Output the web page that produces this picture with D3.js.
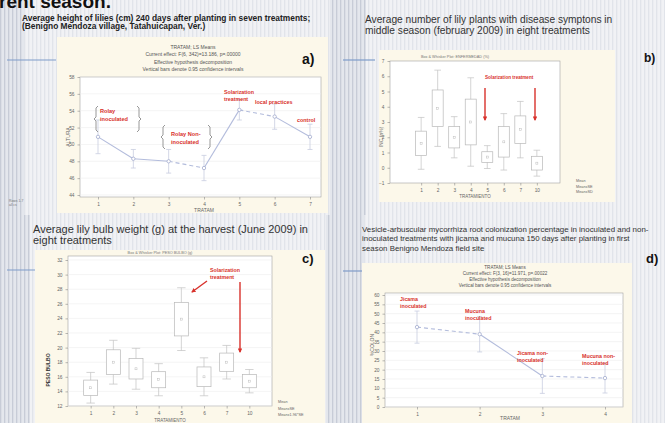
<!DOCTYPE html>
<html>
<head>
<meta charset="utf-8">
<script src="https://cdn.jsdelivr.net/npm/d3@7"></script>
<style>
body { margin: 0; background: #fff; }
svg { display: block; font-family: "Liberation Sans", Arial, sans-serif; }
</style>
</head>
<body>
<script>
// a) lily height, LS means with 95% CI
var heightTreat = ["1", "2", "3", "4", "5", "6", "7"];
var heightMean = [50.9, 48.3, 48.0, 47.2, 54.1, 53.3, 50.9];
var heightCI = [2.0, 1.1, 1.4, 1.5, 1.2, 1.5, 1.5];
var heightTicks = [44, 46, 48, 50, 52, 54, 56, 58];
var heightDashed = [false, false, true, false, true, false];

// b) plants with disease symptoms, box & whisker
var diseaseTreat = ["1", "2", "3", "4", "5", "6", "7", "10"];
var diseaseMean = [1.6, 3.9, 2.0, 3.0, 0.7, 1.7, 2.5, 0.3];
var diseaseSE = [0.8, 1.2, 0.7, 1.5, 0.35, 1.0, 0.9, 0.45];
var diseaseSD = [1.7, 2.5, 1.35, 2.9, 0.75, 1.85, 1.85, 0.85];
var diseaseTicks = [-1, 0, 1, 2, 3, 4, 5, 6, 7];

// c) bulb weight, box & whisker
var bulbTreat = ["1", "2", "3", "4", "5", "6", "7", "10"];
var bulbMean = [14.5, 18.0, 17.1, 15.6, 23.9, 16.0, 18.0, 15.4];
var bulbSE = [1.05, 1.7, 1.4, 1.1, 2.3, 1.35, 1.25, 0.9];
var bulbSD = [2.1, 3.0, 2.8, 2.2, 4.3, 2.6, 2.3, 1.6];
var bulbTicks = [12, 14, 16, 18, 20, 22, 24, 26, 28, 30, 32];

// d) mycorrhiza colonization, LS means with 95% CI
var colonTreat = ["1", "2", "3", "4"];
var colonMean = [42.8, 39.0, 16.6, 15.5];
var colonCI = [8.6, 9.5, 9.3, 8.0];
var colonTicks = [0, 5, 10, 15, 20, 25, 30, 35, 40, 45, 50, 55, 60];
var colonDashed = [true, false, true];

var W = 665, H = 423;
var RED = "#d8312b";
var LINE = "#b3bcdc";

var svg = d3.select("body").append("svg")
  .attr("width", W)
  .attr("height", H);

var defs = svg.append("defs");

function stripePattern(id, base, line) {
  var p = defs.append("pattern")
    .attr("id", id)
    .attr("patternUnits", "userSpaceOnUse")
    .attr("width", 4)
    .attr("height", 4);
  p.append("rect").attr("width", 4).attr("height", 4).attr("fill", base);
  p.append("rect").attr("width", 1.3).attr("height", 4).attr("fill", line);
}
stripePattern("stLight", "#f1f2f5", "#e1e4ea");
stripePattern("stDark", "#e4e7ed", "#c7ccd7");

defs.append("marker")
  .attr("id", "arrow")
  .attr("viewBox", "0 0 10 10")
  .attr("refX", 8)
  .attr("refY", 5)
  .attr("markerWidth", 3.2)
  .attr("markerHeight", 3.2)
  .attr("orient", "auto")
  .append("path")
  .attr("d", "M0,0 L10,5 L0,10 z")
  .attr("fill", RED);

// slide backgrounds
svg.append("rect").attr("x", 0).attr("y", 0).attr("width", W).attr("height", H).attr("fill", "url(#stLight)");
[[0, 0, 24, 215], [330, 0, 36, 215], [0, 215, 30, 208], [330, 215, 34, 208], [326, 215, 6, 208]].forEach(function(b) {
  svg.append("rect").attr("x", b[0]).attr("y", b[1]).attr("width", b[2]).attr("height", b[3]).attr("fill", "url(#stDark)");
});

// blue rule lines on the slides
[[7, 56, 60], [343, 375, 60], [7, 44, 270], [343, 364, 271]].forEach(function(l) {
  svg.append("line").attr("x1", l[0]).attr("x2", l[1]).attr("y1", l[2]).attr("y2", l[2])
    .attr("stroke", "#7f9cc9").attr("stroke-width", 1.2);
});

// cut-off slide heading
svg.append("text")
  .attr("x", -1).attr("y", 8)
  .attr("font-size", 19).attr("font-weight", "bold").attr("fill", "#111")
  .text("rent season.");

function cream(x, y, w, h) {
  svg.append("rect").attr("x", x).attr("y", y).attr("width", w).attr("height", h)
    .attr("fill", "#fcf8ea");
}

function lines(x, y0, dy, arr, size, weight, color, anchor) {
  arr.forEach(function(t, i) {
    svg.append("text")
      .attr("x", x).attr("y", y0 + i * dy)
      .attr("font-size", size)
      .attr("font-weight", weight || "normal")
      .attr("fill", color || "#333")
      .attr("text-anchor", anchor || "start")
      .text(t);
  });
}

function plotFrame(x0, x1, y0, y1, yScale, ticks, xScale) {
  var g = svg.append("g");
  g.append("rect").attr("x", x0).attr("y", y0).attr("width", x1 - x0).attr("height", y1 - y0)
    .attr("fill", "#fff").attr("stroke", "#a0a0a0").attr("stroke-width", 0.6);
  g.selectAll(".grid").data(ticks).enter().append("line")
    .attr("class", "grid")
    .attr("x1", x0).attr("x2", x1)
    .attr("y1", function(d) { return yScale(d); })
    .attr("y2", function(d) { return yScale(d); })
    .attr("stroke", "#ededed").attr("stroke-width", 0.6);

  var ya = g.append("g").attr("transform", "translate(" + x0 + ",0)")
    .call(d3.axisLeft(yScale).tickValues(ticks).tickSize(2.5).tickPadding(3));
  var xa = g.append("g").attr("transform", "translate(0," + y1 + ")")
    .call(d3.axisBottom(xScale).tickSize(2.5).tickPadding(3));
  [ya, xa].forEach(function(a) {
    a.select(".domain").remove();
    a.selectAll("line").attr("stroke", "#8a8a8a").attr("stroke-width", 0.6);
    a.selectAll("text").attr("font-size", 4.8).attr("fill", "#666").attr("font-family", "Liberation Sans, Arial");
  });
  return g;
}

function meansChart(g, x, y, cats, mean, ci, dashed) {
  for (var i = 0; i < cats.length - 1; i++) {
    g.append("line")
      .attr("x1", x(cats[i])).attr("y1", y(mean[i]))
      .attr("x2", x(cats[i + 1])).attr("y2", y(mean[i + 1]))
      .attr("stroke", LINE).attr("stroke-width", 1.1)
      .attr("stroke-dasharray", dashed[i] ? "4,3" : null);
  }
  var e = g.selectAll(".err").data(cats).enter().append("g");
  e.append("line")
    .attr("x1", function(d) { return x(d); }).attr("x2", function(d) { return x(d); })
    .attr("y1", function(d, i) { return y(mean[i] + ci[i]); })
    .attr("y2", function(d, i) { return y(mean[i] - ci[i]); })
    .attr("stroke", "#c8cde0").attr("stroke-width", 0.8);
  [1, -1].forEach(function(s) {
    e.append("line")
      .attr("x1", function(d) { return x(d) - 2.5; }).attr("x2", function(d) { return x(d) + 2.5; })
      .attr("y1", function(d, i) { return y(mean[i] + s * ci[i]); })
      .attr("y2", function(d, i) { return y(mean[i] + s * ci[i]); })
      .attr("stroke", "#c8cde0").attr("stroke-width", 0.8);
  });
  e.append("circle")
    .attr("cx", function(d) { return x(d); })
    .attr("cy", function(d, i) { return y(mean[i]); })
    .attr("r", 1.7)
    .attr("fill", "#fff").attr("stroke", "#a3acce").attr("stroke-width", 0.8);
}

function boxChart(g, x, y, cats, mean, se, sd, bw) {
  var b = g.selectAll(".bx").data(cats).enter().append("g");
  b.append("line")
    .attr("x1", function(d) { return x(d); }).attr("x2", function(d) { return x(d); })
    .attr("y1", function(d, i) { return y(mean[i] + sd[i]); })
    .attr("y2", function(d, i) { return y(mean[i] - sd[i]); })
    .attr("stroke", "#c2c2c2").attr("stroke-width", 0.7);
  [1, -1].forEach(function(s) {
    b.append("line")
      .attr("x1", function(d) { return x(d) - bw * 0.3; }).attr("x2", function(d) { return x(d) + bw * 0.3; })
      .attr("y1", function(d, i) { return y(mean[i] + s * sd[i]); })
      .attr("y2", function(d, i) { return y(mean[i] + s * sd[i]); })
      .attr("stroke", "#c2c2c2").attr("stroke-width", 0.7);
  });
  b.append("rect")
    .attr("x", function(d) { return x(d) - bw / 2; })
    .attr("width", bw)
    .attr("y", function(d, i) { return y(mean[i] + se[i]); })
    .attr("height", function(d, i) { return y(mean[i] - se[i]) - y(mean[i] + se[i]); })
    .attr("fill", "#fff").attr("stroke", "#b8b8b8").attr("stroke-width", 0.7);
  b.append("rect")
    .attr("x", function(d) { return x(d) - 1; })
    .attr("y", function(d, i) { return y(mean[i]) - 1; })
    .attr("width", 2).attr("height", 2)
    .attr("fill", "none").attr("stroke", "#bdbdbd").attr("stroke-width", 0.5);
}

function redText(x, y0, arr, size) {
  lines(x, y0, size * 1.35, arr, size, "bold", RED);
}

function brace(x, yTop, yBot, dir) {
  var m = (yTop + yBot) / 2;
  var d = "M" + (x + 2 * dir) + "," + yTop + " L" + x + "," + (yTop + 2) +
    " L" + x + "," + (m - 2) + " L" + (x - 2 * dir) + "," + m +
    " L" + x + "," + (m + 2) + " L" + x + "," + (yBot - 2) + " L" + (x + 2 * dir) + "," + yBot;
  svg.append("path").attr("d", d).attr("fill", "none").attr("stroke", "#8c8c8c").attr("stroke-width", 0.9);
}

function redArrow(x1, y1, x2, y2) {
  svg.append("line").attr("x1", x1).attr("y1", y1).attr("x2", x2).attr("y2", y2)
    .attr("stroke", RED).attr("stroke-width", 1.4).attr("marker-end", "url(#arrow)");
}

function yTitle(x, y, t, color, weight) {
  svg.append("text")
    .attr("transform", "translate(" + x + "," + y + ") rotate(-90)")
    .attr("text-anchor", "middle")
    .attr("font-size", 5).attr("fill", color || "#666").attr("font-weight", weight || "normal")
    .text(t);
}

// ---------- panel a ----------
lines(22, 20.5, 8.6, ["Average height of lilies (cm)  240 days after planting in seven treatments;",
  "(Benigno Mendoza village, Tatahuicapan, Ver.)"], 8.4, "bold", "#222");
cream(57, 37, 271, 176);
lines(193, 49, 7.3, ["TRATAM; LS Means",
  "Current effect: F(6, 342)=13.186, p=.00000",
  "Effective hypothesis decomposition",
  "Vertical bars denote 0.95 confidence intervals"], 5, "normal", "#555", "middle");
lines(302, 64, 0, ["a)"], 14, "bold", "#111");

var ax = d3.scalePoint().domain(heightTreat).range([98, 310]);
var ay = d3.scaleLinear().domain([44, 58]).range([195, 77]);
var ga = plotFrame(80, 321, 77, 197, ay, heightTicks, ax);
meansChart(ga, ax, ay, heightTreat, heightMean, heightCI, heightDashed);
yTitle(70, 137, "ALTURA");
lines(204, 211.5, 0, ["TRATAM"], 5, "normal", "#666", "middle");
lines(9, 202, 4, ["Rows 1-7", "all cs"], 3.4, "normal", "#777");

brace(96, 106, 132, 1);
brace(139, 106, 132, -1);
redText(100, 113, ["Rolay", "inoculated"], 5.6);
brace(163, 125, 149, 1);
brace(210, 125, 149, -1);
redText(171, 136, ["Rolay Non-", "inoculated"], 5.6);
redText(224, 94, ["Solarization", "treatment"], 5.3);
redText(255, 104, ["local practices"], 5.4);
redText(297, 122, ["control"], 5.4);

// ---------- panel b ----------
lines(365, 23, 11, ["Average number of lily plants with disease symptons in",
  "middle season (february 2009) in eight treatments"], 10.2, "normal", "#333");
cream(379, 50, 236, 152);
lines(644, 62, 0, ["b)"], 12, "bold", "#111");
lines(455, 58, 0, ["Box & Whisker Plot: ENFERMEDAD (%)"], 3.8, "normal", "#777", "middle");

var bx = d3.scalePoint().domain(diseaseTreat).range([398, 560]).padding(1.4);
var by = d3.scaleLinear().domain([-1, 7]).range([183, 61]);
var gb = plotFrame(390, 560, 61, 183, by, diseaseTicks, bx);
gb.selectAll(".grid").remove();
boxChart(gb, bx, by, diseaseTreat, diseaseMean, diseaseSE, diseaseSD, 11);
yTitle(383, 137, "INC (n%)");
lines(475, 198, 0, ["TRATAMIENTO"], 4.5, "normal", "#666", "middle");
redText(485, 79, ["Solarization treatment"], 4.6);
redArrow(485, 88, 485, 120);
redArrow(535, 88, 535, 120);
lines(576, 182, 5.5, ["Mean", "Mean±SE", "Mean±SD"], 3.8, "normal", "#666");

// ---------- panel c ----------
lines(33, 233, 11, ["Average lily bulb weight (g) at the harvest (June 2009) in",
  "eight treatments"], 11, "normal", "#333");
cream(35, 250, 290, 173);
lines(302, 263, 0, ["c)"], 13, "bold", "#111");
lines(160, 254, 0, ["Box & Whisker Plot: PESO BULBO (g)"], 3.8, "normal", "#777", "middle");

var cx = d3.scalePoint().domain(bulbTreat).range([68, 272]).padding(1);
var cy = d3.scaleLinear().domain([12, 32]).range([406, 260]);
var gc = plotFrame(68, 272, 256, 406, cy, bulbTicks, cx);
boxChart(gc, cx, cy, bulbTreat, bulbMean, bulbSE, bulbSD, 14);
yTitle(50, 370, "PESO BULBO", "#333", "bold");
lines(170, 422, 0, ["TRATAMIENTO"], 4.5, "normal", "#666", "middle");
redText(210, 272, ["Solarization", "treatment"], 5.3);
redArrow(207, 281, 192, 292);
redArrow(240, 282, 240, 352);
lines(278, 403, 6.5, ["Mean", "Mean±SE", "Mean±1.96*SE"], 3.8, "normal", "#666");

// ---------- panel d ----------
lines(362, 232, 9.3, ["Vesicle-arbuscular mycorrhiza root colonization percentage in inoculated and non-",
  "inoculated treatments with jicama and mucuna 150 days after planting in first",
  "season Benigno Mendoza field site"], 7.9, "normal", "#333");
cream(362, 263, 270, 160);
lines(646, 263, 0, ["d)"], 13, "bold", "#111");
lines(505, 269, 6, ["TRATAM; LS Means",
  "Current effect: F(3, 16)=11.971, p=.00022",
  "Effective hypothesis decomposition",
  "Vertical bars denote 0.95 confidence intervals"], 4.6, "normal", "#555", "middle");

var dx = d3.scalePoint().domain(colonTreat).range([417, 605]);
var dy = d3.scaleLinear().domain([0, 60]).range([407, 295]);
var gd = plotFrame(385, 623, 293, 407, dy, colonTicks, dx);
meansChart(gd, dx, dy, colonTreat, colonMean, colonCI, colonDashed);
yTitle(374, 345, "%COLON");
lines(510, 420, 0, ["TRATAM"], 5, "normal", "#666", "middle");
redText(400, 301, ["Jicama", "inoculated"], 5.3);
redText(465, 313, ["Mucuna", "inoculated"], 5.3);
redText(517, 355, ["Jicama non-", "inoculated"], 5.3);
redText(582, 358, ["Mucuna non-", "inoculated"], 5.3);
</script>
</body>
</html>
